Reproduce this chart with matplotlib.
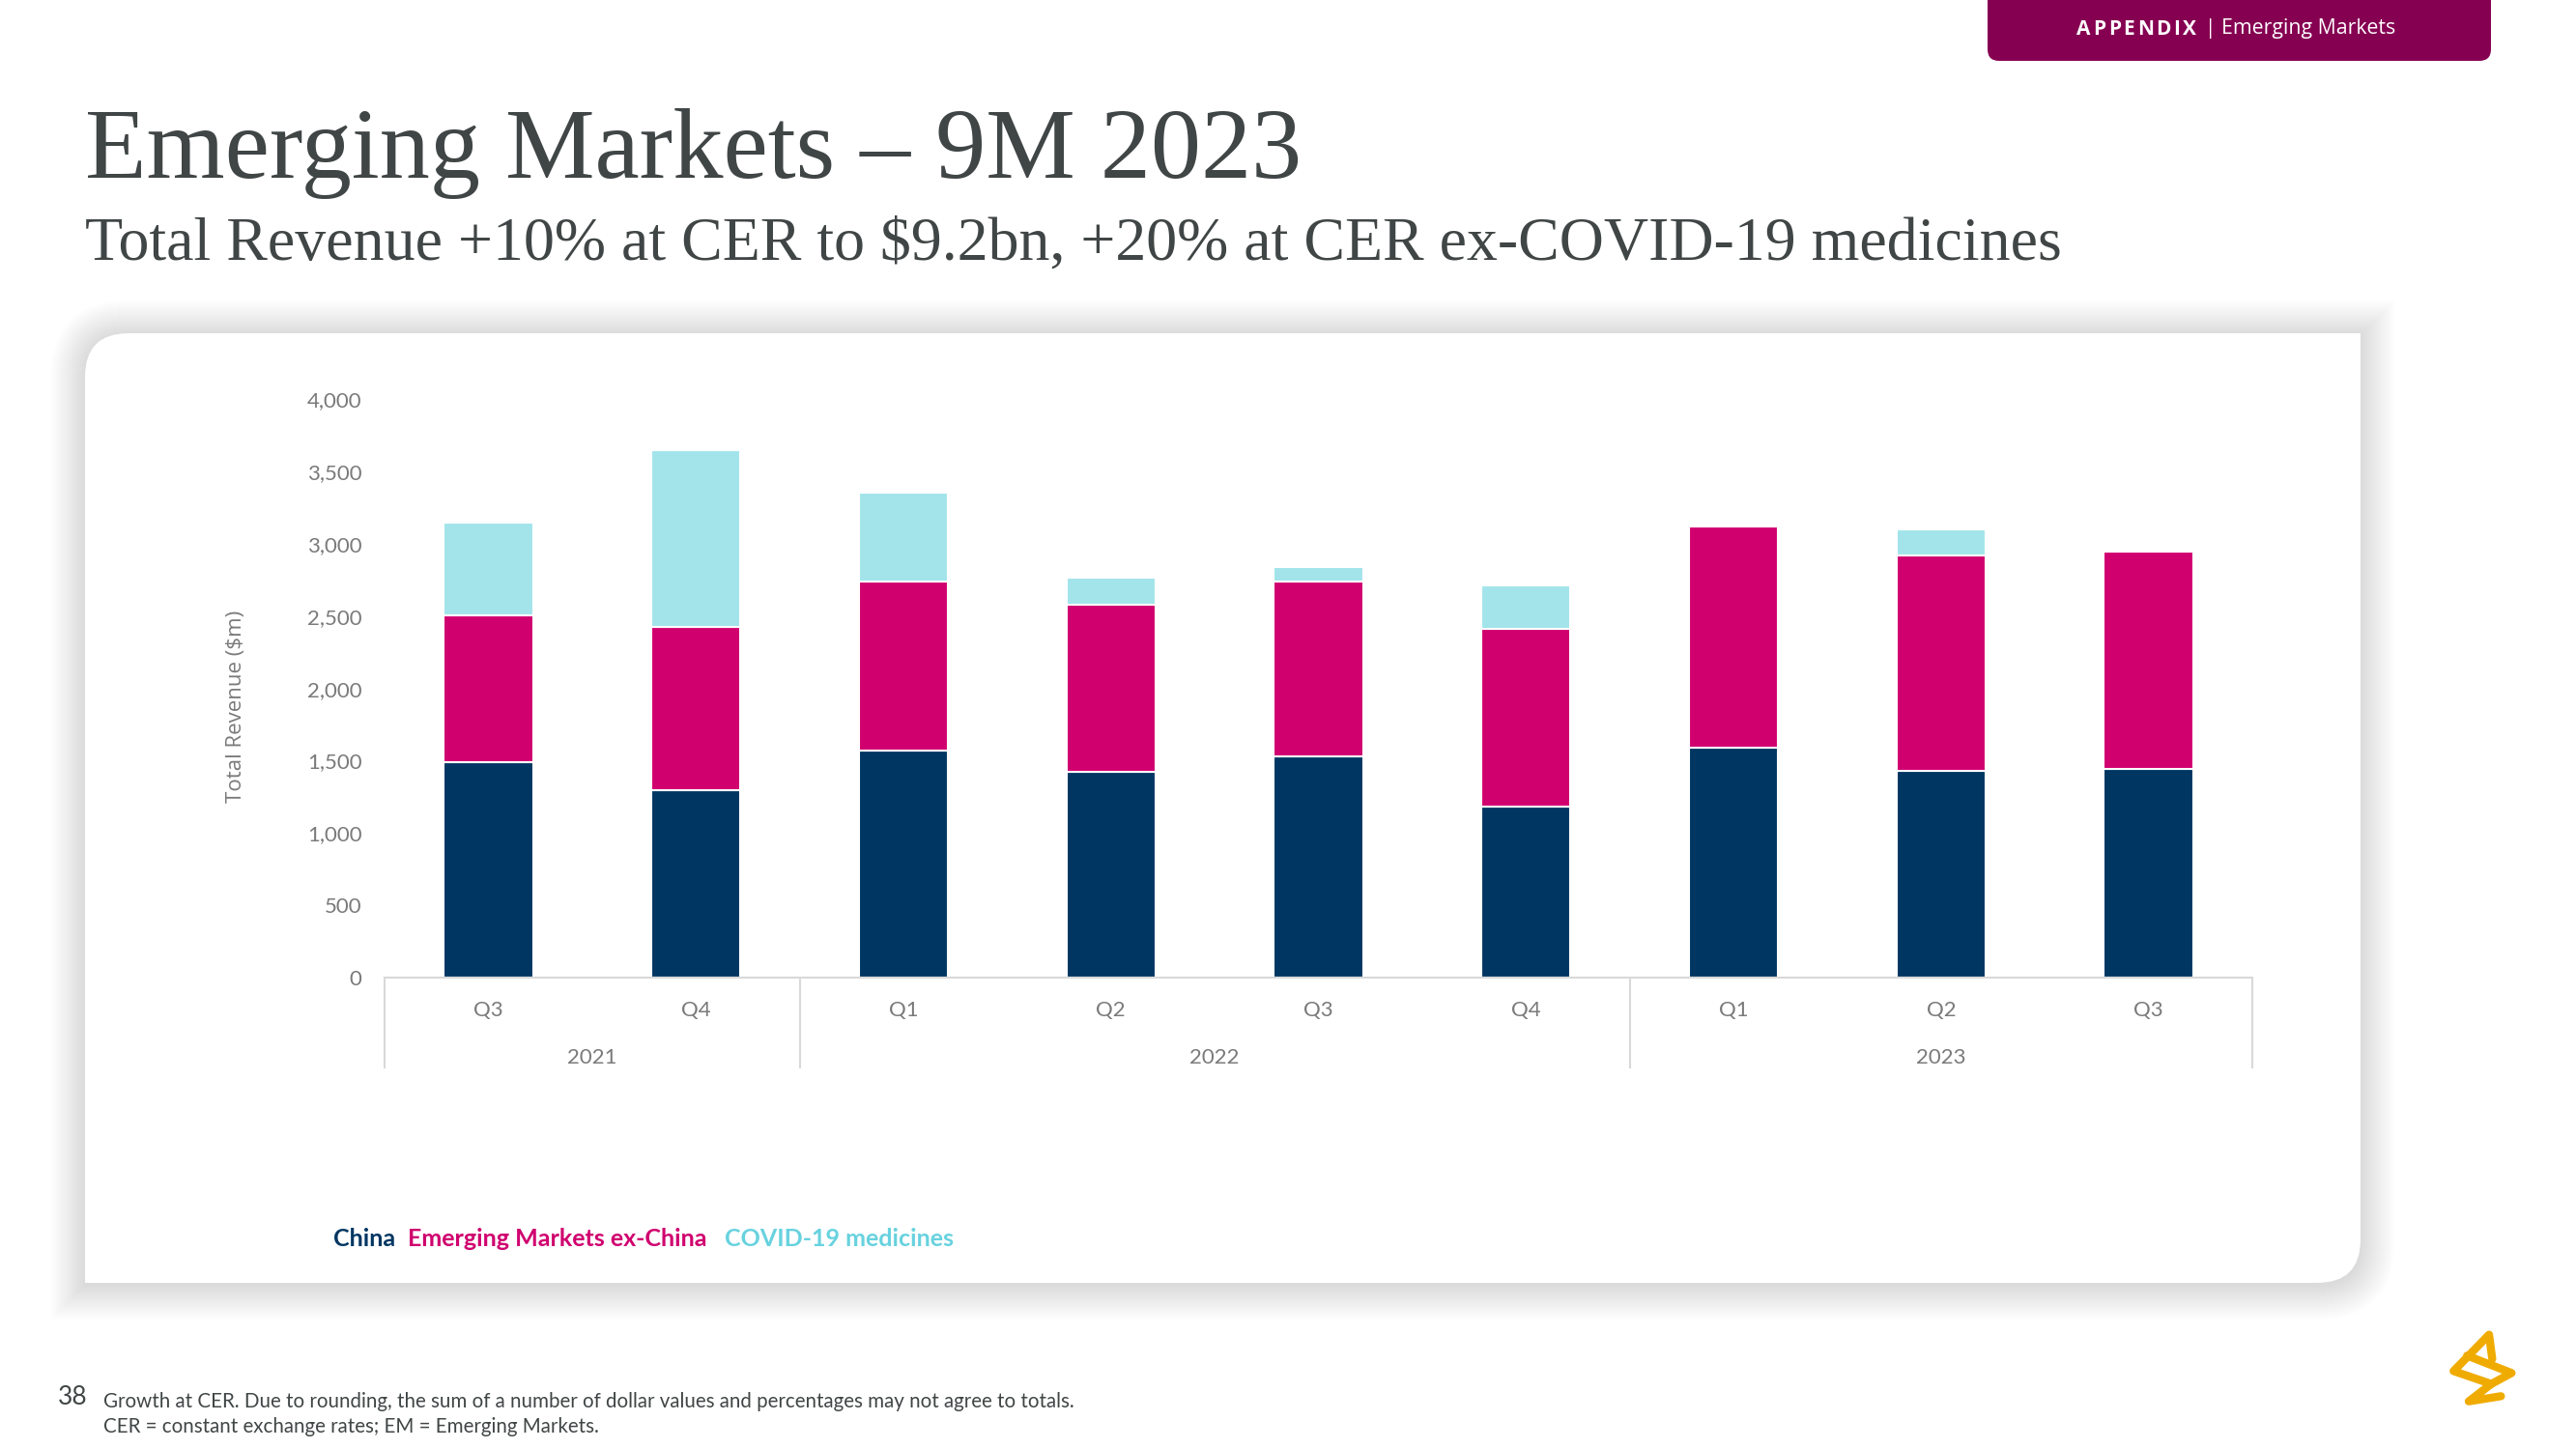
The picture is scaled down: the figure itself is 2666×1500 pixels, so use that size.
import numpy as np
import matplotlib.pyplot as plt
from matplotlib.path import Path
from matplotlib.patches import PathPatch, FancyBboxPatch
from matplotlib.transforms import blended_transform_factory

# data ($m)
quarters = ['Q3', 'Q4', 'Q1', 'Q2', 'Q3', 'Q4', 'Q1', 'Q2', 'Q3']
years = ['2021', '2022', '2023']
year_span = [(0, 1), (2, 5), (6, 8)]
china = [1491, 1296, 1569, 1424, 1528, 1186, 1590, 1433, 1445]
em_ex_china = [1014, 1129, 1169, 1157, 1209, 1226, 1532, 1488, 1503]
covid = [642, 1223, 617, 189, 101, 301, 14, 177, 0]

navy = '#003662'
magenta = '#d0006f'
cyan = '#a3e4eb'
cyan_txt = '#68d2df'
plum = '#860052'
grey_txt = '#7a7a7a'
dark_txt = '#404545'
line_grey = '#d9d9d9'

W, H = 2666, 1500
fig = plt.figure(figsize=(W / 100, H / 100), dpi=100)
fig.patch.set_facecolor('white')

# background layer in pixel coords (y down)
bg = fig.add_axes([0, 0, 1, 1], zorder=0)
bg.set_xlim(0, W)
bg.set_ylim(H, 0)
bg.axis('off')


def card_path(x0, y0, x1, y1, r):
    verts = [(x0 + r, y0), (x1, y0), (x1, y1 - r), (x1, y1), (x1 - r, y1),
             (x0, y1), (x0, y0 + r), (x0, y0), (x0 + r, y0), (x0 + r, y0)]
    codes = [Path.MOVETO, Path.LINETO, Path.LINETO, Path.CURVE3, Path.CURVE3,
             Path.LINETO, Path.LINETO, Path.CURVE3, Path.CURVE3, Path.CLOSEPOLY]
    return Path(verts, codes)


# soft shadow + card
cx0, cy0, cx1, cy1, rad = 88, 345, 2443, 1328, 45
for i in range(36, 0, -1):
    bg.add_patch(PathPatch(card_path(cx0 - i, cy0 - i + 2, cx1 + i, cy1 + i + 2, rad + i),
                           facecolor='black', edgecolor='none', alpha=0.0026))
bg.add_patch(PathPatch(card_path(cx0, cy0, cx1, cy1, rad), facecolor='white', edgecolor='none'))

# top-right tab
bg.add_patch(FancyBboxPatch((2057, -30), 521, 93, boxstyle='round,pad=0,rounding_size=12',
                            facecolor=plum, edgecolor='none'))
renderer = fig.canvas.get_renderer()
xpos = 2149
for ch in 'APPENDIX':
    t = bg.text(xpos, 30, ch, color='white', fontsize=15, fontweight='bold',
                family='Open Sans', va='center', ha='left')
    bb = t.get_window_extent(renderer)
    xpos += bb.width + 2.6
bg.text(2282, 30, '|', color='white', fontsize=15, family='Open Sans', va='center', ha='left')
bg.text(2299, 30, 'Emerging Markets', color='white', fontsize=15.3, family='Open Sans',
        va='center', ha='left')

# titles
bg.text(88, 184, 'Emerging Markets \u2013 9M 2023', family='Liberation Serif', fontsize=75,
        color=dark_txt, va='baseline', ha='left')
bg.text(88, 269, 'Total Revenue +10% at CER to $9.2bn, +20% at CER ex-COVID-19 medicines',
        family='Liberation Serif', fontsize=46, color=dark_txt, va='baseline', ha='left')

# main chart
ax = fig.add_axes([398 / W, 488 / H, (2331 - 398) / W, 598.5 / H], zorder=2)
ax.patch.set_alpha(0)
x = np.arange(len(quarters))
bw = 0.43
china_a = np.array(china)
ex_a = np.array(em_ex_china)
cov_a = np.array(covid)
ax.bar(x, china_a, width=bw, color=navy, edgecolor='white', linewidth=1.5)
ax.bar(x, ex_a, width=bw, bottom=china_a, color=magenta, edgecolor='white', linewidth=1.5)
ax.bar(x, cov_a, width=bw, bottom=china_a + ex_a, color=cyan, edgecolor='white', linewidth=1.5)

ax.set_xlim(-0.5, len(quarters) - 0.5)
ax.set_ylim(0, 4000)
yt = np.arange(0, 4001, 500)
ax.set_yticks(yt)
ax.set_yticklabels([f'{v:,}' for v in yt], family='Lato', fontsize=16, color=grey_txt)
ax.set_xticks(x)
ax.set_xticklabels(quarters, family='Lato', fontsize=16, color=grey_txt)
ax.tick_params(axis='y', length=0, pad=17)
ax.tick_params(axis='x', length=0, pad=17)
for s in ['top', 'right', 'left']:
    ax.spines[s].set_visible(False)
ax.spines['bottom'].set_color(line_grey)
ax.spines['bottom'].set_linewidth(1.5)

tr = blended_transform_factory(ax.transData, ax.transAxes)
for sep in [-0.5, 1.5, 5.5, 8.5]:
    ax.plot([sep, sep], [0, -0.155], transform=tr, color=line_grey, lw=1.5, clip_on=False)
for yr, (a, b) in zip(years, year_span):
    ax.text((a + b) / 2, -0.138, yr, transform=tr, family='Lato', fontsize=16,
            color=grey_txt, ha='center', va='center')

fig.text(245 / W, 1 - 731 / H, 'Total Revenue ($m)', rotation=90, family='Open Sans',
         fontsize=16, color=grey_txt, ha='center', va='center')

# legend as coloured words
bg.text(345, 1282, 'China', family='Lato', fontweight='bold', fontsize=18, color=navy,
        va='center', ha='left')
bg.text(422, 1282, 'Emerging Markets ex-China', family='Lato', fontweight='bold', fontsize=18,
        color=magenta, va='center', ha='left')
bg.text(750, 1282, 'COVID-19 medicines', family='Lato', fontweight='bold', fontsize=18,
        color=cyan_txt, va='center', ha='left')

# footer
bg.text(60, 1447, '38', family='Lato', fontsize=19, color=dark_txt, va='center', ha='left')
bg.text(107, 1451, 'Growth at CER. Due to rounding, the sum of a number of dollar values and '
        'percentages may not agree to totals.', family='Lato', fontsize=14.8, color=dark_txt,
        va='center', ha='left')
bg.text(107, 1477, 'CER = constant exchange rates; EM = Emerging Markets.', family='Lato',
        fontsize=14.8, color=dark_txt, va='center', ha='left')

# logo (rough sketch of the swirl)
gold = '#f0ab00'
s1 = np.array([(238, 140), (228, 65), (118, 178), (235, 218)])
s2 = np.array([(160, 130), (298, 184), (235, 218), (165, 272), (265, 256)])
for p in (s1, s2):
    bg.plot(2500 + p[:, 0] / 3, 1360 + p[:, 1] / 3, color=gold, lw=6,
            solid_capstyle='round', solid_joinstyle='round')

fig.savefig('out.png', dpi=100)
